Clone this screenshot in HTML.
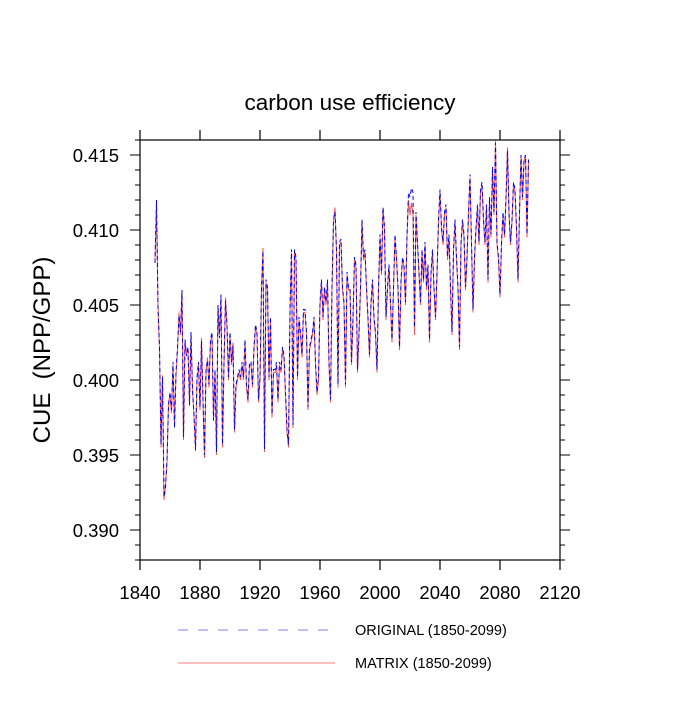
<!DOCTYPE html>
<html><head><meta charset="utf-8"><style>
body{margin:0;background:#fff}
svg text{font-family:"Liberation Sans",sans-serif;fill:#000}
</style></head><body>
<svg id="chart" width="700" height="700" viewBox="0 0 700 700" xmlns="http://www.w3.org/2000/svg">
<text x="350" y="110" font-size="22.5" text-anchor="middle">carbon use efficiency</text>
<text transform="translate(50,350) rotate(-90)" font-size="24" text-anchor="middle" xml:space="preserve">CUE  (NPP/GPP)</text>
<g id="axes"></g>
<g id="series"></g>
<g>
<line x1="178" y1="630" x2="335" y2="630" stroke="#7f7fff" stroke-width="1" stroke-dasharray="10,10"/>
<text x="355" y="635" font-size="14.5">ORIGINAL (1850-2099)</text>
<line x1="178" y1="663" x2="335" y2="663" stroke="#ff7f7f" stroke-width="1"/>
<text x="355" y="668" font-size="14.5">MATRIX (1850-2099)</text>
</g>
</svg>
<script>
const startYear = 1850;
const xTicks = [1840,1880,1920,1960,2000,2040,2080,2120];
const yTicks = [0.390,0.395,0.400,0.405,0.410,0.415];
const yTickLabels = ["0.390","0.395","0.400","0.405","0.410","0.415"];
const matrix = [
.4080,.4118,.4050,.4020,.3955,.4003,.3920,.3930,.3945,.3985,
.3990,.3978,.4010,.3970,.4003,.4020,.4045,.4030,.4060,.3960,
.4025,.4018,.4020,.3985,.4030,.3995,.3975,.3955,.4000,.4010,
.3980,.4028,.3985,.3948,.4005,.4015,.3995,.4025,.4030,.3975,
.4005,.3950,.4048,.4030,.4055,.3955,.4010,.4055,.4035,.4000,
.4030,.4010,.4025,.3965,.3995,.4000,.4005,.4000,.4010,.4000,
.4025,.3995,.3985,.4010,.4010,.3995,.4020,.4035,.4030,.3985,
.4000,.4060,.4088,.3952,.4065,.4060,.4000,.4040,.3975,.4005,
.4005,.4010,.3985,.4010,.4005,.4020,.4015,.3990,.3965,.3955,
.4045,.4085,.3968,.4085,.4080,.4000,.4040,.4030,.4015,.4045,
.4045,.4030,.3980,.4020,.4025,.4030,.4040,.4010,.3990,.4000,
.4050,.4065,.4040,.4060,.4050,.4065,.4010,.3985,.4060,.4105,
.4115,.4085,.3995,.4090,.4092,.4060,.4050,.3995,.4070,.4060,
.4060,.4010,.4040,.4080,.4075,.4005,.4030,.4060,.4105,.4080,
.4085,.4060,.4040,.4015,.4050,.4065,.4040,.4030,.4005,.4060,
.4095,.4070,.4115,.4100,.4040,.4060,.4075,.4050,.4025,.4060,
.4095,.4080,.4060,.4020,.4065,.4080,.4075,.4050,.4095,.4120,
.4110,.4118,.4110,.4030,.4110,.4090,.4070,.4050,.4085,.4065,
.4090,.4060,.4075,.4025,.4070,.4085,.4060,.4040,.4070,.4105,
.4125,.4100,.4090,.4110,.4115,.4080,.4095,.4060,.4030,.4085,
.4105,.4080,.4060,.4020,.4090,.4105,.4095,.4060,.4080,.4110,
.4135,.4090,.4045,.4080,.4100,.4115,.4090,.4125,.4130,.4105,
.4090,.4115,.4065,.4120,.4095,.4140,.4110,.4160,.4090,.4080,
.4055,.4090,.4110,.4095,.4120,.4155,.4110,.4090,.4105,.4130,
.4125,.4100,.4065,.4110,.4150,.4120,.4145,.4150,.4095,.4145];
const original = [
.4078,.4120,.4048,.4022,.3957,.4002,.3922,.3928,.3947,.3983,
.3992,.3980,.4012,.3968,.4005,.4022,.4043,.4032,.4060,.3962,
.4027,.4016,.4022,.3983,.4032,.3993,.3977,.3953,.4002,.4012,
.3982,.4026,.3987,.3950,.4007,.4013,.3997,.4027,.4032,.3973,
.4007,.3952,.4050,.4028,.4057,.3957,.4012,.4053,.4037,.4002,
.4032,.4012,.4023,.3967,.3997,.4002,.4007,.4002,.4012,.4002,
.4027,.3997,.3987,.4012,.4012,.3997,.4022,.4037,.4032,.3987,
.4002,.4062,.4086,.3954,.4067,.4062,.4002,.4042,.3977,.4007,
.4007,.4012,.3987,.4012,.4007,.4022,.4017,.3992,.3967,.3957,
.4047,.4087,.3970,.4087,.4082,.4002,.4042,.4032,.4017,.4047,
.4047,.4032,.3982,.4022,.4027,.4032,.4042,.4012,.3992,.4002,
.4052,.4067,.4042,.4062,.4052,.4067,.4012,.3987,.4062,.4107,
.4112,.4087,.3997,.4092,.4094,.4062,.4052,.3997,.4072,.4062,
.4062,.4012,.4042,.4082,.4077,.4007,.4032,.4062,.4107,.4082,
.4087,.4062,.4042,.4017,.4052,.4067,.4042,.4032,.4007,.4062,
.4097,.4072,.4115,.4102,.4042,.4062,.4077,.4052,.4027,.4062,
.4097,.4082,.4062,.4022,.4067,.4082,.4077,.4052,.4097,.4125,
.4122,.4128,.4125,.4035,.4112,.4092,.4072,.4052,.4087,.4067,
.4092,.4062,.4077,.4027,.4072,.4087,.4062,.4042,.4072,.4107,
.4127,.4102,.4092,.4112,.4117,.4082,.4097,.4062,.4032,.4087,
.4107,.4082,.4062,.4022,.4092,.4107,.4097,.4062,.4082,.4112,
.4137,.4092,.4047,.4082,.4102,.4117,.4092,.4127,.4132,.4107,
.4092,.4117,.4067,.4122,.4097,.4142,.4112,.4158,.4092,.4082,
.4057,.4092,.4112,.4097,.4122,.4153,.4112,.4092,.4107,.4132,
.4127,.4102,.4067,.4112,.4150,.4122,.4147,.4150,.4097,.4147];

const NS='http://www.w3.org/2000/svg';
const L=140,R=560,T=140,B=560;
const xMin=1840,xMax=2120,yMin=0.388,yMax=0.416;
function xs(v){return L+(v-xMin)/(xMax-xMin)*(R-L);}
function ys(v){return B-(v-yMin)/(yMax-yMin)*(B-T);}
function mk(tag,attrs,parent){const e=document.createElementNS(NS,tag);for(const k in attrs)e.setAttribute(k,attrs[k]);parent.appendChild(e);return e;}
const axes=document.getElementById('axes');
const series=document.getElementById('series');
const frame=mk('rect',{x:L,y:T,width:R-L,height:B-T,fill:'none',stroke:'#000','stroke-width':1.2},axes);


xTicks.forEach(t=>{
  const x=xs(t);
  const b=mk('line',{x1:x,y1:B,x2:x,y2:B+10,stroke:'#000','stroke-width':1.2},axes);
  
  
  const tp=mk('line',{x1:x,y1:T,x2:x,y2:T-10,stroke:'#000','stroke-width':1.2},axes);
  
  
  const lb=mk('text',{x:x,y:B+39,'font-size':18.5,'text-anchor':'middle'},axes);
  lb.textContent=t;
  
  
});
for(let i=0;i<=28;i++){
  const v=yMin+i*0.001;const y=ys(v);
  const major=(i%5===2);
  const len=major?10:5;
  const a=mk('line',{x1:L-len,y1:y,x2:L,y2:y,stroke:'#000','stroke-width':1},axes);
  
  
  const c=mk('line',{x1:R,y1:y,x2:R+len,y2:y,stroke:'#000','stroke-width':1},axes);
  
  
}
yTicks.forEach((t,i)=>{
  const lb=mk('text',{x:119,y:ys(t)+7,'font-size':18.5,'text-anchor':'end'},axes);
  lb.textContent=yTickLabels[i];
  
  
});
function pts(arr){return arr.map((v,i)=>xs(startYear+i).toFixed(2)+','+ys(v).toFixed(2)).join(' ');}
const red=mk('polyline',{points:pts(matrix),fill:'none',stroke:'#ff3030','stroke-width':1,'stroke-opacity':0.85},series);


const blue=mk('polyline',{points:pts(original),fill:'none',stroke:'#0000ff','stroke-width':1,'stroke-dasharray':'4,3'},series);


</script>
</body></html>
